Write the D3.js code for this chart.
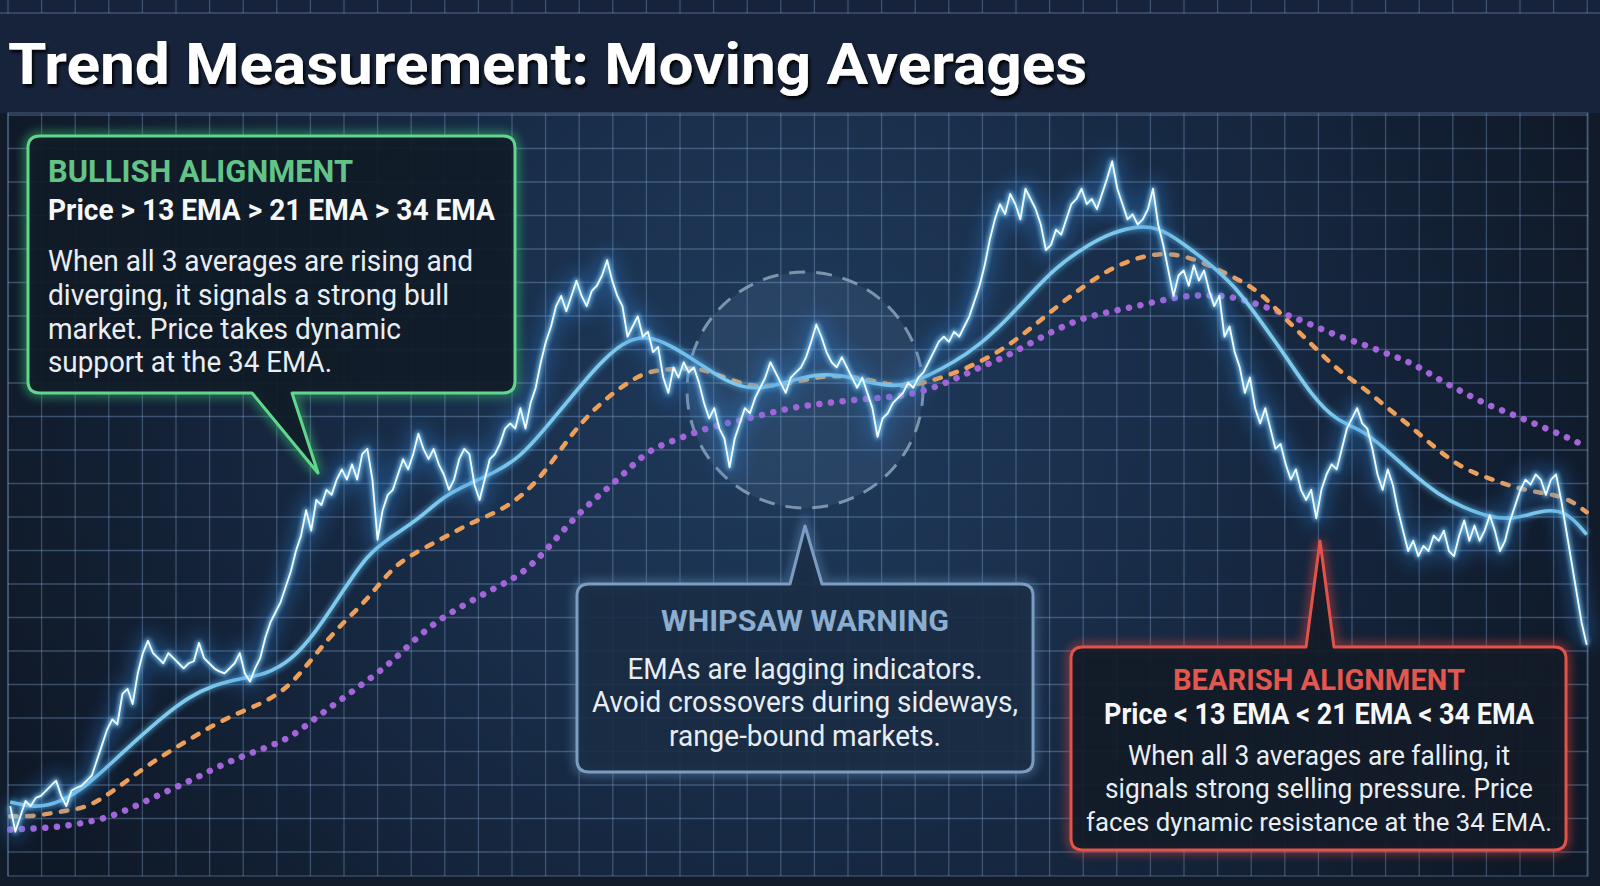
<!DOCTYPE html>
<html><head><meta charset="utf-8">
<script src="https://cdn.jsdelivr.net/npm/d3@7"></script>
<style>html,body{margin:0;padding:0;background:#111b2a;overflow:hidden}</style>
</head><body><svg id="c" width="1600" height="886"></svg>
<script>
// ---------- DATA ----------
const priceValues = [
 78,53,68,83,78,86,88,93,98,103,88,78,93,96,98,103,108,123,138,153,
 163,158,188,193,178,208,228,240,228,223,218,228,223,218,213,218,220,238,223,218,
 213,210,208,213,218,228,208,200,213,223,243,258,268,278,293,308,328,343,368,348,
 378,373,388,383,398,408,398,413,398,423,428,398,339,368,383,388,403,418,408,423,
 443,428,418,428,413,403,388,398,418,428,423,393,378,398,418,423,433,448,453,448,
 468,448,473,488,513,533,548,568,578,563,578,593,578,568,583,588,598,613,593,578,
 568,538,548,558,538,543,523,528,498,483,508,498,513,503,508,493,473,458,468,448,
 438,410,438,453,468,463,478,488,498,513,503,493,483,498,503,508,518,533,550,538,
 523,513,508,518,508,498,488,498,483,468,440,458,463,473,478,483,493,488,498,503,
 513,523,533,538,533,543,538,548,558,573,588,608,633,653,668,658,678,668,653,683,
 673,663,648,623,628,643,638,653,668,673,683,668,673,663,678,693,710,683,668,653,
 658,648,653,663,683,648,628,603,578,598,603,588,608,593,603,583,568,578,538,548,
 523,508,483,498,468,453,468,448,428,433,413,398,408,388,378,388,360,388,403,413,
 408,428,448,458,468,453,448,428,403,388,408,393,368,348,328,338,323,333,328,343,
 338,348,328,323,343,358,338,353,338,348,363,348,328,338,358,373,388,398,393,403,
 398,383,398,403,378,348,318,288,258,236
];
const emaBars = d3.range(0, 310, 5).concat([309]);
const ema13 = [82,76,82,98,121,144,166,185,197,203,207,220,249,287,325,343,359,382,394,405,
 420,449,479,509,533,540,528,512,495,486,490,498,502,498,491,489,500,513,530,553,
 580,606,624,638,646,646,629,610,588,554,519,481,455,447,426,403,383,370,361,359,368,368,344];
const ema21 = [68,68,73,76,92,111,128,143,158,170,180,196,228,257,280,313,328,341,355,365,
 380,406,443,470,490,505,506,508,498,489,490,495,500,499,494,488,494,502,513,527,
 546,567,586,603,614,620,618,608,596,582,555,531,506,489,468,448,426,408,399,390,385,381,366];
const ema34 = [55,56,58,62,68,79,91,102,115,126,135,145,165,183,201,220,245,264,278,292,
 304,328,358,381,402,427,436,446,453,458,465,470,473,476,478,480,486,496,508,518,
 532,545,556,562,567,573,578,579,577,569,560,550,539,531,521,512,496,483,470,461,450,440,430];

const titleText = "Trend Measurement: Moving Averages";
const bullLines = ["BULLISH ALIGNMENT", "Price > 13 EMA > 21 EMA > 34 EMA",
 "When all 3 averages are rising and", "diverging, it signals a strong bull",
 "market. Price takes dynamic", "support at the 34 EMA."];
const whipLines = ["WHIPSAW WARNING", "EMAs are lagging indicators.",
 "Avoid crossovers during sideways,", "range-bound markets."];
const bearLines = ["BEARISH ALIGNMENT", "Price < 13 EMA < 21 EMA < 34 EMA",
 "When all 3 averages are falling, it", "signals strong selling pressure. Price",
 "faces dynamic resistance at the 34 EMA."];

// ---------- SETUP ----------
const W = 1600, H = 886;
const svg = d3.select('#c');
const defs = svg.append('defs');
const FONT = "Roboto, 'Noto Sans', 'DejaVu Sans', sans-serif";

const x = d3.scaleLinear().domain([0, 309]).range([10.2, 1586.7]);
const y = d3.scaleLinear().domain([0, 868]).range([885.7, 0]);

const rg = defs.append('radialGradient').attr('id', 'bgGrad')
  .attr('gradientUnits', 'userSpaceOnUse').attr('cx', 790).attr('cy', 400).attr('r', 860);
rg.append('stop').attr('offset', 0).attr('stop-color', '#203b5d');
rg.append('stop').attr('offset', 0.45).attr('stop-color', '#182c47');
rg.append('stop').attr('offset', 1).attr('stop-color', '#0f1827');

function blurFilter(id, sd) {
  const f = defs.append('filter').attr('id', id)
    .attr('x', '-20%').attr('y', '-20%').attr('width', '140%').attr('height', '140%');
  f.append('feGaussianBlur').attr('stdDeviation', sd);
}
blurFilter('blur9', 9);
blurFilter('blur5', 5);
blurFilter('blur2', 2.2);
const ds = defs.append('filter').attr('id', 'shadow')
  .attr('x', '-5%').attr('y', '-30%').attr('width', '110%').attr('height', '160%');
ds.append('feDropShadow').attr('dx', 2).attr('dy', 3).attr('stdDeviation', 1.5)
  .attr('flood-color', '#000').attr('flood-opacity', 0.85);

// ---------- BACKGROUND ----------
svg.append('rect').attr('width', W).attr('height', H).attr('fill', '#111b2a');
svg.append('rect').attr('x', 0).attr('y', 0).attr('width', W).attr('height', 113).attr('fill', '#16233a');
svg.append('rect').attr('x', 8).attr('y', 113).attr('width', 1580).attr('height', 763).attr('fill', 'url(#bgGrad)');

const gridCol = 'rgba(135,170,210,0.36)';
const gx = d3.range(48).map(k => 8 + k * 33.6);
const gy = d3.range(23).map(k => 115 + k * 33.5);
const grid = svg.append('g').attr('stroke', gridCol).attr('stroke-width', 1.3);
gx.forEach(v => {
  grid.append('line').attr('x1', v).attr('x2', v).attr('y1', 113).attr('y2', 876);
  grid.append('line').attr('x1', v).attr('x2', v).attr('y1', 0).attr('y2', 13);
});
gy.forEach(v => grid.append('line').attr('x1', 8).attr('x2', 1588).attr('y1', v).attr('y2', v));
grid.append('line').attr('x1', 0).attr('x2', W).attr('y1', 13).attr('y2', 13);
grid.append('rect').attr('x', 8).attr('y', 113).attr('width', 1580).attr('height', 763).attr('fill', 'none');

svg.append('circle').attr('cx', 805).attr('cy', 390).attr('r', 118)
  .attr('fill', 'rgba(140,175,215,0.10)')
  .attr('stroke', '#8da3bb').attr('stroke-opacity', 0.85).attr('stroke-width', 3)
  .attr('stroke-dasharray', '16 11');

// ---------- LINES ----------
const emaLine = d3.line().x((d, i) => x(emaBars[i])).y(d => y(d)).curve(d3.curveBasis);
const priceLine = d3.line().x((d, i) => x(i)).y(d => y(d));

svg.append('path').attr('d', emaLine(ema34)).attr('fill', 'none')
  .attr('stroke', '#a465da').attr('stroke-width', 6.5).attr('stroke-linecap', 'round')
  .attr('stroke-dasharray', '0.1 11.6');
svg.append('path').attr('d', emaLine(ema21)).attr('fill', 'none')
  .attr('stroke', '#eea05a').attr('stroke-width', 4.5).attr('stroke-linecap', 'round')
  .attr('stroke-dasharray', '6.5 10.5');
svg.append('path').attr('d', emaLine(ema13)).attr('fill', 'none')
  .attr('stroke', '#5bb5e8').attr('stroke-width', 8).attr('opacity', 0.45).attr('filter', 'url(#blur2)');
svg.append('path').attr('d', emaLine(ema13)).attr('fill', 'none')
  .attr('stroke', '#80cbed').attr('stroke-width', 3.6);

svg.append('path').attr('d', priceLine(priceValues)).attr('fill', 'none')
  .attr('stroke', '#2f7fd0').attr('stroke-width', 20).attr('stroke-linejoin', 'round')
  .attr('opacity', 0.34).attr('filter', 'url(#blur9)');
svg.append('path').attr('d', priceLine(priceValues)).attr('fill', 'none')
  .attr('stroke', '#7fd0ff').attr('stroke-width', 5).attr('stroke-linejoin', 'round')
  .attr('opacity', 0.75).attr('filter', 'url(#blur2)');
svg.append('path').attr('d', priceLine(priceValues)).attr('fill', 'none')
  .attr('stroke', '#f3fbff').attr('stroke-width', 1.8).attr('stroke-linejoin', 'round');

// ---------- CALLOUTS ----------
function calloutPath(bx, by, w, h, r, side, b1, b2, tx, ty) {
  const R = bx + w, B = by + h;
  let p = `M${bx + r},${by}`;
  if (side === 'top') p += ` H${b1} L${tx},${ty} L${b2},${by}`;
  p += ` H${R - r} Q${R},${by} ${R},${by + r} V${B - r} Q${R},${B} ${R - r},${B}`;
  if (side === 'bottom') p += ` H${b2} L${tx},${ty} L${b1},${B}`;
  p += ` H${bx + r} Q${bx},${B} ${bx},${B - r} V${by + r} Q${bx},${by} ${bx + r},${by} Z`;
  return p;
}
function callout(d, stroke, fill, fillOp, glowCol) {
  svg.append('path').attr('d', d).attr('fill', 'none').attr('stroke', glowCol)
    .attr('stroke-width', 9).attr('opacity', 0.5).attr('filter', 'url(#blur5)');
  svg.append('path').attr('d', d).attr('fill', fill).attr('fill-opacity', fillOp)
    .attr('stroke', stroke).attr('stroke-width', 3).attr('stroke-linejoin', 'round');
}
function txt(s, xx, yy, size, weight, col, len, anchor) {
  svg.append('text').attr('x', xx).attr('y', yy).text(s)
    .attr('font-family', FONT).attr('font-size', size).attr('font-weight', weight)
    .attr('fill', col).attr('text-anchor', anchor || 'start')
    .attr('textLength', len).attr('lengthAdjust', 'spacingAndGlyphs');
}

// Bullish
callout(calloutPath(28, 136, 487, 257, 12, 'bottom', 252, 292, 318, 473),
  '#62d68d', '#101b27', 0.93, '#3fcf7a');
txt(bullLines[0], 48, 182, 32, 700, '#63c488', 305);
txt(bullLines[1], 48, 220, 30, 700, '#f6f7f8', 447);
[[bullLines[2], 271, 425], [bullLines[3], 305, 401], [bullLines[4], 339, 353], [bullLines[5], 372, 284]]
  .forEach(a => txt(a[0], 48, a[1], 30, 400, '#e9eef3', a[2]));

// Whipsaw
callout(calloutPath(577, 584, 456, 188, 12, 'top', 790, 822, 805, 526),
  '#7c9dc2', '#1a2c44', 0.9, '#5f8ab8');
txt(whipLines[0], 805, 631, 29, 700, '#8aadd0', 288, 'middle');
[[whipLines[1], 679, 355], [whipLines[2], 712, 426], [whipLines[3], 746, 272]]
  .forEach(a => txt(a[0], 805, a[1], 29, 400, '#e8edf3', a[2], 'middle'));

// Bearish
callout(calloutPath(1071, 647, 495, 203, 12, 'top', 1306, 1334, 1320, 541),
  '#e2534b', '#121b27', 0.93, '#e0443c');
txt(bearLines[0], 1319, 690, 29, 700, '#e3574f', 292, 'middle');
txt(bearLines[1], 1319, 724, 29, 700, '#f6f7f8', 430, 'middle');
txt(bearLines[2], 1319, 765, 28.5, 400, '#e9eef3', 382, 'middle');
txt(bearLines[3], 1319, 798, 28, 400, '#e9eef3', 428, 'middle');
txt(bearLines[4], 1319, 831, 26.5, 400, '#e9eef3', 466, 'middle');

// ---------- TITLE ----------
svg.append('text').attr('x', 8).attr('y', 84).text(titleText)
  .attr('font-family', FONT).attr('font-size', 58).attr('font-weight', 700)
  .attr('fill', '#ffffff').attr('filter', 'url(#shadow)')
  .attr('textLength', 1079).attr('lengthAdjust', 'spacingAndGlyphs');
</script></body></html>
